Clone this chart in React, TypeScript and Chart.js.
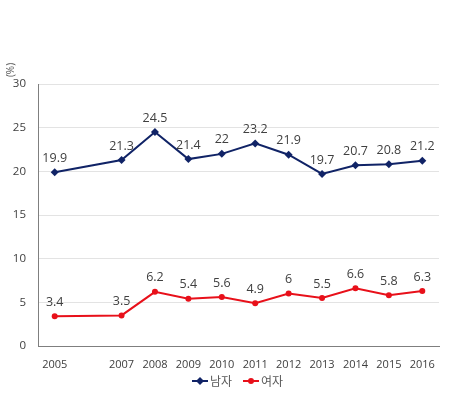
import React, { useEffect, useRef } from "react";
import { Chart, registerables } from "chart.js";

Chart.register(...registerables);

const years = [2005, 2007, 2008, 2009, 2010, 2011, 2012, 2013, 2014, 2015, 2016];
const male = [19.9, 21.3, 24.5, 21.4, 22, 23.2, 21.9, 19.7, 20.7, 20.8, 21.2];
const female = [3.4, 3.5, 6.2, 5.4, 5.6, 4.9, 6, 5.5, 6.6, 5.8, 6.3];
const seriesNames = ["남자", "여자"];
const yTicks = [0, 5, 10, 15, 20, 25, 30];
const unitLabel = "(%)";

const NAVY = "#102366";
const RED = "#E8101A";
const NUM_FONT = "'Open Sans', 'Noto Sans', sans-serif";
const KR_FONT = "'Noto Sans CJK KR', sans-serif";

const labelPlugin = {
  id: "labels",
  afterDatasetsDraw(chart: any) {
    const ctx = chart.ctx;
    ctx.save();
    ctx.font = `12.5px ${NUM_FONT}`;
    ctx.fillStyle = "#404040";
    ctx.textAlign = "center";
    ctx.textBaseline = "middle";
    chart.data.datasets.forEach((ds: any, i: number) => {
      const meta = chart.getDatasetMeta(i);
      meta.data.forEach((pt: any, j: number) => {
        const v = ds.data[j].y;
        ctx.fillText(String(v), pt.x, pt.y - 14);
      });
    });
    ctx.restore();
  },
  afterDraw(chart: any) {
    const ctx = chart.ctx;
    ctx.save();
    ctx.translate(11, 70);
    ctx.rotate(-Math.PI / 2);
    ctx.font = `10px ${NUM_FONT}`;
    ctx.fillStyle = "#595959";
    ctx.textAlign = "center";
    ctx.textBaseline = "middle";
    ctx.fillText(unitLabel, 0, 0);
    ctx.restore();

    ctx.save();
    const y = 381;
    const items = [
      { x: 192, color: NAVY, style: "diamond", name: seriesNames[0] },
      { x: 243, color: RED, style: "circle", name: seriesNames[1] },
    ];
    ctx.font = `12px ${KR_FONT}`;
    ctx.textBaseline = "middle";
    ctx.textAlign = "left";
    items.forEach((it) => {
      ctx.strokeStyle = it.color;
      ctx.lineWidth = 2;
      ctx.beginPath();
      ctx.moveTo(it.x, y);
      ctx.lineTo(it.x + 16, y);
      ctx.stroke();
      ctx.fillStyle = it.color;
      ctx.beginPath();
      const cx = it.x + 8;
      if (it.style === "diamond") {
        ctx.moveTo(cx, y - 4);
        ctx.lineTo(cx + 4, y);
        ctx.lineTo(cx, y + 4);
        ctx.lineTo(cx - 4, y);
        ctx.closePath();
      } else {
        ctx.arc(cx, y, 3, 0, Math.PI * 2);
      }
      ctx.fill();
      ctx.fillStyle = "#595959";
      ctx.fillText(it.name, it.x + 18, y);
    });
    ctx.restore();
  },
};

export default function App() {
  const ref = useRef<HTMLCanvasElement>(null);
  useEffect(() => {
    document.body.style.margin = "0";
    const chart = new Chart(ref.current!, {
      type: "line",
      data: {
        datasets: [
          {
            label: seriesNames[0],
            data: years.map((x, i) => ({ x, y: male[i] })),
            borderColor: NAVY,
            backgroundColor: NAVY,
            borderWidth: 2,
            pointStyle: "rectRot",
            pointRadius: 4,
            pointBorderWidth: 0,
            tension: 0,
          },
          {
            label: seriesNames[1],
            data: years.map((x, i) => ({ x, y: female[i] })),
            borderColor: RED,
            backgroundColor: RED,
            borderWidth: 2,
            pointStyle: "circle",
            pointRadius: 3,
            pointBorderWidth: 0,
            tension: 0,
          },
        ],
      },
      options: {
        responsive: false,
        animation: false,
        layout: { padding: { top: 84, right: 13, bottom: 52, left: 0 } },
        plugins: { legend: { display: false }, tooltip: { enabled: false } },
        scales: {
          x: {
            type: "linear",
            min: 2004.5,
            max: 2016.5,
            afterBuildTicks: (s: any) => {
              s.ticks = years.map((v) => ({ value: v }));
            },
            afterFit: (s: any) => {
              s.height = 22;
            },
            grid: { display: false, drawTicks: false },
            border: { display: true, color: "#7F7F7F", width: 1 },
            ticks: {
              autoSkip: false,
              maxRotation: 0,
              padding: 12,
              color: "#404040",
              font: { size: 11, family: NUM_FONT },
              callback: (v: any) => String(v),
            },
          },
          y: {
            min: 0,
            max: 30,
            afterBuildTicks: (s: any) => {
              s.ticks = yTicks.map((v) => ({ value: v }));
            },
            afterFit: (s: any) => {
              s.width = 38;
            },
            grid: { color: "#E3E3E3", drawTicks: false },
            border: { display: true, color: "#7F7F7F", width: 1 },
            ticks: {
              padding: 12,
              color: "#404040",
              font: { size: 11.5, family: NUM_FONT },
            },
          },
        },
      },
      plugins: [labelPlugin],
    } as any);
    return () => chart.destroy();
  }, []);
  return <canvas ref={ref} width={452} height={420} style={{ display: "block" }} />;
}
